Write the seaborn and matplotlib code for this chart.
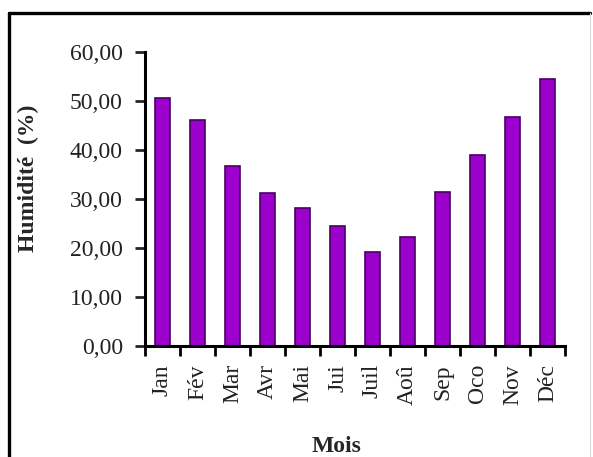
import numpy as np
import pandas as pd
import matplotlib
matplotlib.use("Agg")
import matplotlib.pyplot as plt
import seaborn as sns
from matplotlib.ticker import FuncFormatter, FixedLocator
from matplotlib.lines import Line2D

# Data
mois = ["Jan", "Fév", "Mar", "Avr", "Mai", "Jui", "Juil", "Aoû", "Sep", "Oco", "Nov", "Déc"]
humidite = [50.6, 46.1, 36.8, 31.3, 28.1, 24.4, 19.1, 22.3, 31.4, 39.0, 46.8, 54.5]
yticks = [0, 10, 20, 30, 40, 50, 60]

df = pd.DataFrame({"Mois": mois, "Humidite": humidite})

sns.set_style("ticks")
plt.rcParams["font.family"] = ["Liberation Serif", "DejaVu Serif"]

fig = plt.figure(figsize=(5.93, 4.57), dpi=100)
ax = fig.add_axes([145 / 593, 111 / 457, 420 / 593, 294 / 457])

sns.barplot(data=df, x="Mois", y="Humidite", color="#9b00cc", saturation=1,
            width=0.43, edgecolor="#4a0060", linewidth=1.2, ax=ax)

ax.set_xlim(-0.5, len(mois) - 0.5)
ax.set_ylim(0, 60)
ax.yaxis.set_major_locator(FixedLocator(yticks))
ax.yaxis.set_major_formatter(FuncFormatter(lambda v, p: f"{v:.2f}".replace(".", ",")))

# Excel-like ticks between categories
ax.set_xticks(np.arange(len(mois)))
ax.set_xticklabels(mois, rotation=90, fontsize=17, color="#222222")
ax.set_xticks(np.arange(-0.5, len(mois)), minor=True)
ax.tick_params(axis="x", which="major", length=0, pad=13)
ax.tick_params(axis="x", which="minor", length=7, width=2, direction="out", color="black")
ax.tick_params(axis="y", length=7, width=2, direction="out", labelsize=17,
               labelcolor="#222222", pad=9)

for side in ["top", "right"]:
    ax.spines[side].set_visible(False)
for side in ["left", "bottom"]:
    ax.spines[side].set_linewidth(2.2)
    ax.spines[side].set_color("black")

ax.set_ylabel("Humidité  (%)", fontsize=17, fontweight="bold")
ax.yaxis.set_label_coords(-0.252, 0.571)
ax.set_xlabel("Mois", fontsize=17, fontweight="bold")
ax.xaxis.set_label_coords(0.457, -0.305)

# figure frame (top and left visible in the reference)
fig.add_artist(Line2D([8.5 / 593, 8.5 / 593], [0, 1 - 12.5 / 457], color="black", linewidth=2.4))
fig.add_artist(Line2D([8.5 / 593, 590 / 593], [1 - 12.5 / 457, 1 - 12.5 / 457], color="black", linewidth=2.4))
fig.add_artist(Line2D([590 / 593, 590 / 593], [0, 1 - 12.5 / 457], color="#dddddd", linewidth=0.8))

fig.savefig("out.png", dpi=100)
plt.close(fig)
